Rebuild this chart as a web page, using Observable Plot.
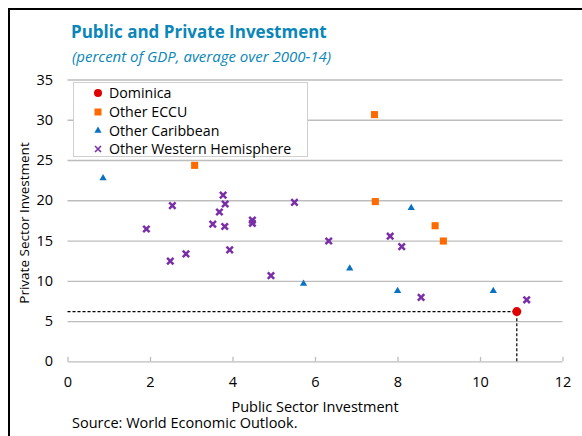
<!DOCTYPE html>
<html>
<head>
<meta charset="utf-8">
<script src="https://cdn.jsdelivr.net/npm/d3@7"></script>
<script src="https://cdn.jsdelivr.net/npm/@observablehq/plot@0.6"></script>
<style>
  html, body { margin: 0; padding: 0; background: #fff; }
  #wrap { position: relative; width: 582px; height: 436px; overflow: hidden; font-family: "Open Sans", sans-serif; color: #000; }
  #frame { position: absolute; left: 8px; top: 8px; width: 700px; height: 600px; border-left: 2px solid #000; border-top: 2px solid #000; }
  #title { position: absolute; left: 71px; top: 20px; font-size: 17px; font-weight: 700; color: #0a86b8; white-space: nowrap; line-height: 24px; }
  #subtitle { position: absolute; left: 72px; top: 46px; font-size: 15px; font-style: italic; color: #0a86b8; white-space: nowrap; line-height: 20px; }
  #chart { position: absolute; left: 0; top: 70px; }
  #ylabel { position: absolute; left: 24px; top: 223px; transform: translate(-50%, -50%) rotate(-90deg); font-size: 13.5px; white-space: nowrap; }
  #xlabel { position: absolute; left: 315px; top: 397px; transform: translateX(-50%); font-size: 14.5px; white-space: nowrap; line-height: 20px; }
  #source { position: absolute; left: 72px; top: 413px; font-size: 14.5px; white-space: nowrap; line-height: 20px; }
  #legend { position: absolute; left: 73px; top: 82px; width: 233px; height: 73px; border: 1px solid #d0d0d0; background: #fff; }
  .row { position: absolute; left: 0; height: 19px; display: flex; align-items: center; font-size: 14.2px; white-space: nowrap; }
  .row svg { margin-left: 19px; margin-right: 6px; }
</style>
</head>
<body>
<div id="wrap">
  <div id="frame"></div>
  <div id="title"></div>
  <div id="subtitle"></div>
  <div id="chart"></div>
  <div id="ylabel"></div>
  <div id="xlabel"></div>
  <div id="source"></div>
  <div id="legend"></div>
</div>
<script>
// ---- data ----
const titleText = "Public and Private Investment";
const subtitleText = "(percent of GDP, average over 2000-14)";
const xLabel = "Public Sector Investment";
const yLabel = "Private Sector Investment";
const sourceText = "Source: World Economic Outlook.";

const seriesNames = ["Dominica", "Other ECCU", "Other Caribbean", "Other Western Hemisphere"];
const seriesColors = ["#e00000", "#ff6a00", "#0a72c2", "#7a2fa8"];

const dominicaX = [10.88];
const dominicaY = [6.24];

const ecccuX = [7.43, 3.07, 7.45, 8.90, 9.10];
const ecccuY = [30.7, 24.4, 19.9, 16.9, 15.0];

const caribX = [0.85, 8.32, 6.83, 5.71, 7.99, 10.31];
const caribY = [22.8, 19.1, 11.6, 9.7, 8.8, 8.8];

const whX = [1.90, 2.53, 2.48, 2.86, 3.76, 3.81, 3.67, 3.51, 3.80, 3.92, 4.47, 4.47, 5.49, 4.92, 6.32, 7.81, 8.09, 8.56, 11.12];
const whY = [16.5, 19.4, 12.5, 13.4, 20.7, 19.6, 18.6, 17.1, 16.8, 13.9, 17.6, 17.2, 19.8, 10.7, 15.0, 15.6, 14.3, 8.0, 7.7];

const xTicks = [0, 2, 4, 6, 8, 10, 12];
const yTicks = [0, 5, 10, 15, 20, 25, 30, 35];

// ---- build ----
const rows = (xs, ys) => xs.map((x, i) => ({x, y: ys[i]}));
const dom = rows(dominicaX, dominicaY);
const ecc = rows(ecccuX, ecccuY);
const car = rows(caribX, caribY);
const wh = rows(whX, whY);

document.getElementById("title").textContent = titleText;
document.getElementById("subtitle").textContent = subtitleText;
document.getElementById("xlabel").textContent = xLabel;
document.getElementById("ylabel").textContent = yLabel;
document.getElementById("source").textContent = sourceText;

const grid = "#bdbdbd";
const chart = Plot.plot({
  width: 582,
  height: 350,
  marginTop: 9.5,
  marginLeft: 67.5,
  marginRight: 19.5,
  marginBottom: 58.7,
  x: {domain: [0, 12], ticks: xTicks, tickSize: 0, tickPadding: 15, label: null},
  y: {domain: [0, 35], ticks: yTicks, tickSize: 0, tickPadding: 15, label: null},
  style: {fontFamily: "Open Sans, sans-serif", fontSize: "14.5px", color: "#000", background: "transparent", overflow: "visible"},
  marks: [
    Plot.ruleY(yTicks.filter(d => d > 0), {stroke: grid, strokeWidth: 1.3}),
    Plot.ruleY([0], {stroke: grid, strokeWidth: 1.3}),
    Plot.ruleX(xTicks, {x: d => d, y1: 0, y2: 0.55, stroke: grid, strokeWidth: 1.3}),
    Plot.ruleY(dom, {y: "y", x1: 0, x2: "x", stroke: "#000", strokeDasharray: "3,2", strokeWidth: 1.2}),
    Plot.ruleX(dom, {x: "x", y1: 0, y2: "y", stroke: "#000", strokeDasharray: "3,2", strokeWidth: 1.2}),
    Plot.dot(wh, {x: "x", y: "y", symbol: "times", r: 3, stroke: seriesColors[3], strokeWidth: 2.5}),
    Plot.dot(car, {x: "x", y: "y", symbol: "triangle", r: 2.7, fill: seriesColors[2]}),
    Plot.dot(ecc, {x: "x", y: "y", symbol: "square", r: 4, fill: seriesColors[1]}),
    Plot.dot(dom, {x: "x", y: "y", symbol: "circle", r: 4.5, fill: seriesColors[0]})
  ]
});
document.getElementById("chart").appendChild(chart);

// ---- legend ----
const legend = document.getElementById("legend");
const symbolSvgs = [
  `<svg width="10" height="10" viewBox="-5 -5 10 10"><circle r="4" fill="${seriesColors[0]}"/></svg>`,
  `<svg width="10" height="10" viewBox="-5 -5 10 10"><rect x="-3.5" y="-3.5" width="7" height="7" fill="${seriesColors[1]}"/></svg>`,
  `<svg width="10" height="10" viewBox="-5 -5 10 10"><path d="M0,-3.5L3.6,2.8L-3.6,2.8Z" fill="${seriesColors[2]}"/></svg>`,
  `<svg width="10" height="10" viewBox="-5 -5 10 10"><path d="M-3,-3L3,3M-3,3L3,-3" stroke="${seriesColors[3]}" stroke-width="1.6"/></svg>`
];
const rowTops = [0, 19, 37.5, 56];
seriesNames.forEach((name, i) => {
  const r = document.createElement("div");
  r.className = "row";
  r.style.top = rowTops[i] + "px";
  r.innerHTML = symbolSvgs[i] + `<span></span>`;
  r.querySelector("span").textContent = name;
  legend.appendChild(r);
});
</script>
</body>
</html>
